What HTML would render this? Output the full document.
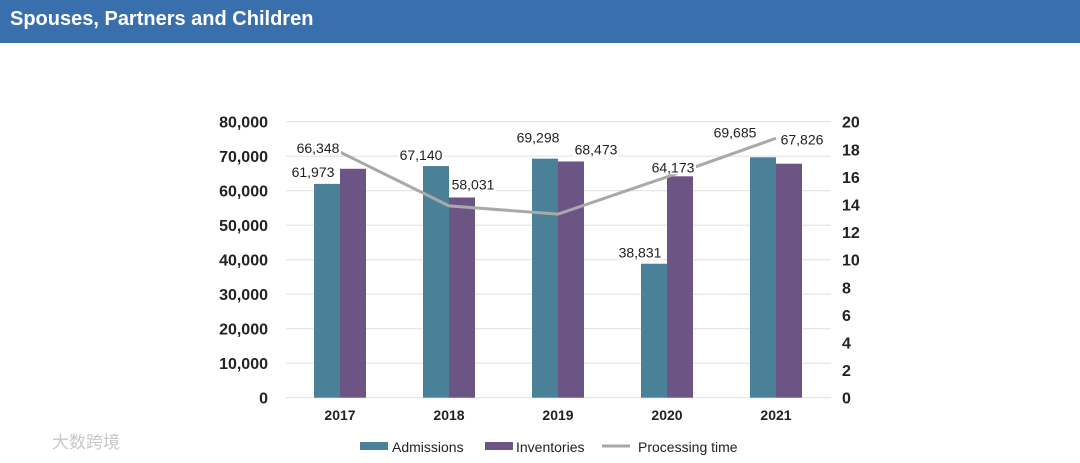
<!DOCTYPE html>
<html><head><meta charset="utf-8"><style>
body{margin:0;width:1080px;height:463px;background:#fff;overflow:hidden;font-family:"Liberation Sans",sans-serif}
.hdr{position:absolute;left:0;top:0;width:1080px;height:43px;background:#3a6fae}
.hdr span{position:absolute;left:10px;top:8px;color:#fff;font-weight:bold;font-size:20px}
</style></head><body>
<div class="hdr"><span>Spouses, Partners and Children</span></div>
<svg id="c" width="1080" height="463" style="position:absolute;left:0;top:0"></svg>
<script>
const categories=["2017","2018","2019","2020","2021"];
const admissions=[61973,67140,69298,38831,69685];
const inventories=[66348,58031,68473,64173,67826];
const processing=[17.8,13.9,13.3,16.0,18.8];
const leftTicks=[0,10000,20000,30000,40000,50000,60000,70000,80000];
const rightTicks=[0,2,4,6,8,10,12,14,16,18,20];
const admLabelOff=[[-14,-9],[-15,-8],[-7,-18],[-14,-8],[-28,-22]];
const invLabelOff=[[-35,-18],[11,-10],[25,-9],[-7,-6],[13,-21]];
const svg=document.getElementById('c');const NS='http://www.w3.org/2000/svg';
const x0=286,x1=831,y0=397.7,y1=121.7;
const ys=v=>y0-(v/80000)*(y0-y1);
const yr=v=>y0-(v/20)*(y0-y1);
const xc=i=>340+i*109;
const bw=26;
function el(t,a,p){const e=document.createElementNS(NS,t);for(const k in a)e.setAttribute(k,a[k]);(p||svg).appendChild(e);return e;}
function txt(x,y,s,o){const e=el('text',Object.assign({x:x,y:y,'font-size':14,'fill':'#222','font-family':'"Liberation Sans Narrow","Liberation Sans",sans-serif'},o||{}));e.textContent=s;return e;}
leftTicks.forEach(v=>{const g=el('line',{x1:x0,x2:x1,y1:ys(v),y2:ys(v),stroke:'#e3e3e3','stroke-width':1.2});

const t=txt(268,ys(v)+6,v.toLocaleString('en-US'),{'text-anchor':'end','font-weight':'bold','font-size':16});
});
rightTicks.forEach(v=>{const t=txt(842,yr(v)+6,String(v),{'font-weight':'bold','font-size':16});
});
categories.forEach((c,i)=>{const t=txt(xc(i),420,c,{'text-anchor':'middle','font-weight':'bold','font-size':14});

const a=el('rect',{x:xc(i)-bw,y:ys(admissions[i]),width:bw,height:y0-ys(admissions[i]),fill:'#4a8199'});

const b=el('rect',{x:xc(i),y:ys(inventories[i]),width:bw,height:y0-ys(inventories[i]),fill:'#6c5585'});
});
const pts=processing.map((v,i)=>xc(i)+','+yr(v)).join(' ');
const pl=el('polyline',{points:pts,fill:'none',stroke:'#a9a9a9','stroke-width':3});

function lab(x,y,v){const s=v.toLocaleString('en-US');el('rect',{x:x-23,y:y-11,width:46,height:15,fill:'#fff'});
const t=txt(x,y+2,s,{'text-anchor':'middle'});}
categories.forEach((c,i)=>{lab(xc(i)-bw/2+admLabelOff[i][0],ys(admissions[i])+admLabelOff[i][1],admissions[i]);
lab(xc(i)+bw/2+invLabelOff[i][0],ys(inventories[i])+invLabelOff[i][1],inventories[i]);});
const lg=[['rect','#4a8199',360,'Admissions',392],['rect','#6c5585',485,'Inventories',516],['line','#a9a9a9',602,'Processing time',638]];
lg.forEach(l=>{let s;if(l[0]=='rect')s=el('rect',{x:l[2],y:442,width:28,height:8,fill:l[1]});else s=el('line',{x1:l[2],x2:l[2]+28,y1:446,y2:446,stroke:l[1],'stroke-width':3});

const t=txt(l[4],452,l[3],{'font-size':14});});
const w=txt(52,448,'大数跨境',{'font-size':17,'fill':'#c8c8c8','font-family':'"Liberation Sans","Noto Sans CJK SC",sans-serif'});

</script></body></html>
